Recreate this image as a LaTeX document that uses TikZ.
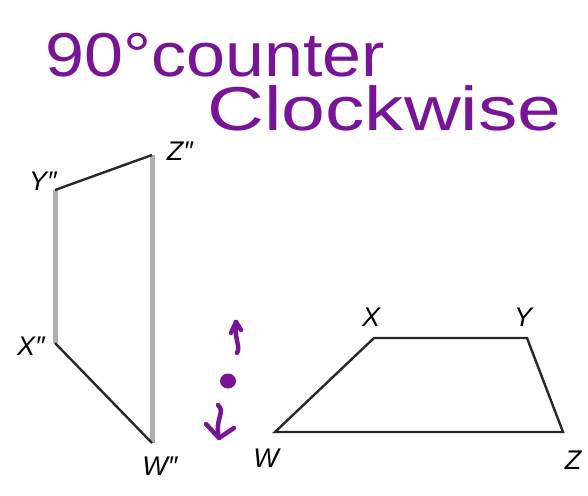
\documentclass[tikz,border=0pt]{standalone}
\usepackage{fontspec}
\setmainfont{Liberation Sans}
\usetikzlibrary{arrows.meta}
\definecolor{ink}{RGB}{120,20,150}
\definecolor{edgegray}{RGB}{175,175,175}
\definecolor{edgedark}{RGB}{40,40,40}
\tikzset{
  vlabel/.style={font=\fontsize{27}{27}\selectfont\itshape, text=black, inner sep=0pt},
  hand/.style={font=\fontsize{62}{62}\selectfont, text=ink, inner sep=0pt, anchor=base west},
  darkedge/.style={draw=edgedark, line width=2.4pt},
  grayedge/.style={draw=edgegray, line width=5pt},
  inkline/.style={draw=ink, line width=4.5pt, line cap=round, line join=round}
}
\begin{document}
\begin{tikzpicture}[x=1pt,y=-1pt]
\useasboundingbox (0,0) rectangle (588,495);
\fill[white] (0,0) rectangle (588,495);
% handwriting
\node[hand, xscale=1.13] (t1) at (45,76) {90°counter};
\node[hand, xscale=1.27] (t2) at (207,130) {Clockwise};
% left (rotated) quadrilateral
\coordinate (Yp) at (55,190);
\coordinate (Zp) at (152,155);
\coordinate (Wp) at (152,443);
\coordinate (Xp) at (55,343);
\draw[grayedge] (Yp) -- (Xp);
\draw[grayedge] (Zp) -- (Wp);
\draw[darkedge] (Yp) -- (Zp);
\draw[darkedge] (Xp) -- (Wp);
\node[vlabel] (lYp) at (43,181) {Y″};
\node[vlabel] (lZp) at (180,151) {Z″};
\node[vlabel] (lXp) at (31,346) {X″};
\node[vlabel] (lWp) at (160,466) {W″};
% right quadrilateral
\coordinate (W) at (275,432);
\coordinate (X) at (374,338);
\coordinate (Y) at (527,338);
\coordinate (Z) at (563,432);
\draw[darkedge, line join=miter] (W) -- (X) -- (Y) -- (Z) -- cycle;
\node[vlabel] (lX) at (371,317) {X};
\node[vlabel] (lY) at (523,317) {Y};
\node[vlabel] (lW) at (266,458) {W};
\node[vlabel] (lZ) at (573,460) {Z};
% purple annotations
\fill[ink] (228,381) ellipse (8 and 7.5);
\draw[inkline] (237,353) .. controls (241,346) and (234,340) .. (236,322);
\draw[inkline] (231,333) -- (236,322) -- (241,330);
\draw[inkline] (218,405) .. controls (226,412) and (214,420) .. (219,438);
\draw[inkline] (206,424) -- (219,438) -- (234,428);
\end{tikzpicture}
\end{document}
